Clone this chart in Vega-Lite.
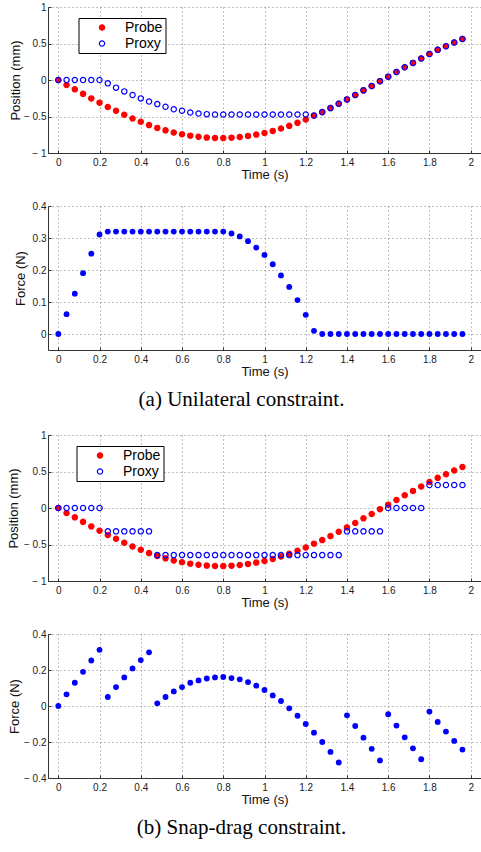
{
  "$schema": "https://vega.github.io/schema/vega-lite/v6.json",
  "padding": {"left": 7, "top": 2, "right": 0, "bottom": 4},
  "background": "white",
  "config": {
    "view": {"stroke": null},
    "font": "Liberation Sans",
    "axis": {
      "labelFont": "Liberation Sans", "labelFontSize": 10, "labelColor": "#222",
      "titleFont": "Liberation Sans", "titleFontSize": 13, "titleFontWeight": "normal", "titleColor": "#111",
      "domainColor": "#333", "domainWidth": 1,
      "tickColor": "#333", "tickSize": -3, "tickWidth": 1,
      "gridColor": "#555", "gridDash": [1, 3], "gridWidth": 1, "gridOpacity": 0.75,
      "labelFlush": false, "labelOverlap": false
    },
    "axisX": {"labelPadding": 7, "titlePadding": 1},
    "axisY": {"labelPadding": 5, "titleBaseline": "middle"}
  },
  "datasets": {
    "pos1": [
      {"time":0,"value":0,"series":"Probe"},{"time":0.04,"value":-0.069,"series":"Probe"},{"time":0.08,"value":-0.128,"series":"Probe"},{"time":0.12,"value":-0.19,"series":"Probe"},{"time":0.16,"value":-0.252,"series":"Probe"},{"time":0.2,"value":-0.31,"series":"Probe"},{"time":0.24,"value":-0.37,"series":"Probe"},{"time":0.28,"value":-0.422,"series":"Probe"},{"time":0.32,"value":-0.477,"series":"Probe"},{"time":0.36,"value":-0.527,"series":"Probe"},{"time":0.4,"value":-0.573,"series":"Probe"},{"time":0.44,"value":-0.618,"series":"Probe"},{"time":0.48,"value":-0.656,"series":"Probe"},{"time":0.52,"value":-0.69,"series":"Probe"},{"time":0.56,"value":-0.72,"series":"Probe"},{"time":0.6,"value":-0.743,"series":"Probe"},{"time":0.64,"value":-0.762,"series":"Probe"},{"time":0.68,"value":-0.778,"series":"Probe"},{"time":0.72,"value":-0.789,"series":"Probe"},{"time":0.76,"value":-0.795,"series":"Probe"},{"time":0.8,"value":-0.796,"series":"Probe"},{"time":0.84,"value":-0.79,"series":"Probe"},{"time":0.88,"value":-0.78,"series":"Probe"},{"time":0.92,"value":-0.766,"series":"Probe"},{"time":0.96,"value":-0.748,"series":"Probe"},{"time":1.0,"value":-0.725,"series":"Probe"},{"time":1.04,"value":-0.697,"series":"Probe"},{"time":1.08,"value":-0.665,"series":"Probe"},{"time":1.12,"value":-0.628,"series":"Probe"},{"time":1.16,"value":-0.587,"series":"Probe"},{"time":1.2,"value":-0.541,"series":"Probe"},{"time":1.24,"value":-0.488,"series":"Probe"},{"time":1.28,"value":-0.44,"series":"Probe"},{"time":1.32,"value":-0.385,"series":"Probe"},{"time":1.36,"value":-0.326,"series":"Probe"},{"time":1.4,"value":-0.266,"series":"Probe"},{"time":1.44,"value":-0.206,"series":"Probe"},{"time":1.48,"value":-0.142,"series":"Probe"},{"time":1.52,"value":-0.083,"series":"Probe"},{"time":1.56,"value":-0.016,"series":"Probe"},{"time":1.6,"value":0.046,"series":"Probe"},{"time":1.64,"value":0.11,"series":"Probe"},{"time":1.68,"value":0.174,"series":"Probe"},{"time":1.72,"value":0.234,"series":"Probe"},{"time":1.76,"value":0.294,"series":"Probe"},{"time":1.8,"value":0.356,"series":"Probe"},{"time":1.84,"value":0.413,"series":"Probe"},{"time":1.88,"value":0.463,"series":"Probe"},{"time":1.92,"value":0.514,"series":"Probe"},{"time":1.96,"value":0.562,"series":"Probe"},
      {"time":0,"value":0,"series":"Proxy"},{"time":0.04,"value":0,"series":"Proxy"},{"time":0.08,"value":0,"series":"Proxy"},{"time":0.12,"value":0,"series":"Proxy"},{"time":0.16,"value":0,"series":"Proxy"},{"time":0.2,"value":0,"series":"Proxy"},{"time":0.24,"value":-0.046,"series":"Proxy"},{"time":0.28,"value":-0.105,"series":"Proxy"},{"time":0.32,"value":-0.156,"series":"Proxy"},{"time":0.36,"value":-0.206,"series":"Proxy"},{"time":0.4,"value":-0.252,"series":"Proxy"},{"time":0.44,"value":-0.294,"series":"Proxy"},{"time":0.48,"value":-0.33,"series":"Proxy"},{"time":0.52,"value":-0.367,"series":"Proxy"},{"time":0.56,"value":-0.4,"series":"Proxy"},{"time":0.6,"value":-0.422,"series":"Proxy"},{"time":0.64,"value":-0.445,"series":"Proxy"},{"time":0.68,"value":-0.459,"series":"Proxy"},{"time":0.72,"value":-0.468,"series":"Proxy"},{"time":0.76,"value":-0.473,"series":"Proxy"},{"time":0.8,"value":-0.473,"series":"Proxy"},{"time":0.84,"value":-0.473,"series":"Proxy"},{"time":0.88,"value":-0.473,"series":"Proxy"},{"time":0.92,"value":-0.473,"series":"Proxy"},{"time":0.96,"value":-0.473,"series":"Proxy"},{"time":1.0,"value":-0.473,"series":"Proxy"},{"time":1.04,"value":-0.473,"series":"Proxy"},{"time":1.08,"value":-0.473,"series":"Proxy"},{"time":1.12,"value":-0.473,"series":"Proxy"},{"time":1.16,"value":-0.473,"series":"Proxy"},{"time":1.2,"value":-0.473,"series":"Proxy"},{"time":1.24,"value":-0.486,"series":"Proxy"},{"time":1.28,"value":-0.44,"series":"Proxy"},{"time":1.32,"value":-0.385,"series":"Proxy"},{"time":1.36,"value":-0.326,"series":"Proxy"},{"time":1.4,"value":-0.266,"series":"Proxy"},{"time":1.44,"value":-0.206,"series":"Proxy"},{"time":1.48,"value":-0.142,"series":"Proxy"},{"time":1.52,"value":-0.083,"series":"Proxy"},{"time":1.56,"value":-0.016,"series":"Proxy"},{"time":1.6,"value":0.046,"series":"Proxy"},{"time":1.64,"value":0.11,"series":"Proxy"},{"time":1.68,"value":0.174,"series":"Proxy"},{"time":1.72,"value":0.234,"series":"Proxy"},{"time":1.76,"value":0.294,"series":"Proxy"},{"time":1.8,"value":0.356,"series":"Proxy"},{"time":1.84,"value":0.413,"series":"Proxy"},{"time":1.88,"value":0.463,"series":"Proxy"},{"time":1.92,"value":0.514,"series":"Proxy"},{"time":1.96,"value":0.562,"series":"Proxy"}
    ],
    "force1": [
      {"time":0,"force":0},{"time":0.04,"force":0.062},{"time":0.08,"force":0.126},{"time":0.12,"force":0.19},{"time":0.16,"force":0.251},{"time":0.2,"force":0.311},{"time":0.24,"force":0.32},{"time":0.28,"force":0.32},{"time":0.32,"force":0.32},{"time":0.36,"force":0.32},{"time":0.4,"force":0.32},{"time":0.44,"force":0.32},{"time":0.48,"force":0.32},{"time":0.52,"force":0.32},{"time":0.56,"force":0.32},{"time":0.6,"force":0.32},{"time":0.64,"force":0.32},{"time":0.68,"force":0.32},{"time":0.72,"force":0.32},{"time":0.76,"force":0.32},{"time":0.8,"force":0.32},{"time":0.84,"force":0.314},{"time":0.88,"force":0.305},{"time":0.92,"force":0.29},{"time":0.96,"force":0.27},{"time":1.0,"force":0.247},{"time":1.04,"force":0.218},{"time":1.08,"force":0.183},{"time":1.12,"force":0.147},{"time":1.16,"force":0.106},{"time":1.2,"force":0.06},{"time":1.24,"force":0.01},{"time":1.28,"force":0},{"time":1.32,"force":0},{"time":1.36,"force":0},{"time":1.4,"force":0},{"time":1.44,"force":0},{"time":1.48,"force":0},{"time":1.52,"force":0},{"time":1.56,"force":0},{"time":1.6,"force":0},{"time":1.64,"force":0},{"time":1.68,"force":0},{"time":1.72,"force":0},{"time":1.76,"force":0},{"time":1.8,"force":0},{"time":1.84,"force":0},{"time":1.88,"force":0},{"time":1.92,"force":0},{"time":1.96,"force":0}
    ],
    "pos2": [
      {"time":0,"value":0,"series":"Probe"},{"time":0.04,"value":-0.069,"series":"Probe"},{"time":0.08,"value":-0.128,"series":"Probe"},{"time":0.12,"value":-0.19,"series":"Probe"},{"time":0.16,"value":-0.252,"series":"Probe"},{"time":0.2,"value":-0.31,"series":"Probe"},{"time":0.24,"value":-0.37,"series":"Probe"},{"time":0.28,"value":-0.422,"series":"Probe"},{"time":0.32,"value":-0.477,"series":"Probe"},{"time":0.36,"value":-0.527,"series":"Probe"},{"time":0.4,"value":-0.573,"series":"Probe"},{"time":0.44,"value":-0.618,"series":"Probe"},{"time":0.48,"value":-0.656,"series":"Probe"},{"time":0.52,"value":-0.69,"series":"Probe"},{"time":0.56,"value":-0.72,"series":"Probe"},{"time":0.6,"value":-0.743,"series":"Probe"},{"time":0.64,"value":-0.762,"series":"Probe"},{"time":0.68,"value":-0.778,"series":"Probe"},{"time":0.72,"value":-0.789,"series":"Probe"},{"time":0.76,"value":-0.795,"series":"Probe"},{"time":0.8,"value":-0.796,"series":"Probe"},{"time":0.84,"value":-0.79,"series":"Probe"},{"time":0.88,"value":-0.78,"series":"Probe"},{"time":0.92,"value":-0.766,"series":"Probe"},{"time":0.96,"value":-0.748,"series":"Probe"},{"time":1.0,"value":-0.725,"series":"Probe"},{"time":1.04,"value":-0.697,"series":"Probe"},{"time":1.08,"value":-0.665,"series":"Probe"},{"time":1.12,"value":-0.628,"series":"Probe"},{"time":1.16,"value":-0.587,"series":"Probe"},{"time":1.2,"value":-0.541,"series":"Probe"},{"time":1.24,"value":-0.488,"series":"Probe"},{"time":1.28,"value":-0.44,"series":"Probe"},{"time":1.32,"value":-0.385,"series":"Probe"},{"time":1.36,"value":-0.326,"series":"Probe"},{"time":1.4,"value":-0.266,"series":"Probe"},{"time":1.44,"value":-0.206,"series":"Probe"},{"time":1.48,"value":-0.142,"series":"Probe"},{"time":1.52,"value":-0.083,"series":"Probe"},{"time":1.56,"value":-0.016,"series":"Probe"},{"time":1.6,"value":0.046,"series":"Probe"},{"time":1.64,"value":0.11,"series":"Probe"},{"time":1.68,"value":0.174,"series":"Probe"},{"time":1.72,"value":0.234,"series":"Probe"},{"time":1.76,"value":0.294,"series":"Probe"},{"time":1.8,"value":0.356,"series":"Probe"},{"time":1.84,"value":0.413,"series":"Probe"},{"time":1.88,"value":0.463,"series":"Probe"},{"time":1.92,"value":0.514,"series":"Probe"},{"time":1.96,"value":0.562,"series":"Probe"},
      {"time":0,"value":0,"series":"Proxy"},{"time":0.04,"value":0,"series":"Proxy"},{"time":0.08,"value":0,"series":"Proxy"},{"time":0.12,"value":0,"series":"Proxy"},{"time":0.16,"value":0,"series":"Proxy"},{"time":0.2,"value":0,"series":"Proxy"},{"time":0.24,"value":-0.32,"series":"Proxy"},{"time":0.28,"value":-0.32,"series":"Proxy"},{"time":0.32,"value":-0.32,"series":"Proxy"},{"time":0.36,"value":-0.32,"series":"Proxy"},{"time":0.4,"value":-0.32,"series":"Proxy"},{"time":0.44,"value":-0.32,"series":"Proxy"},{"time":0.48,"value":-0.645,"series":"Proxy"},{"time":0.52,"value":-0.645,"series":"Proxy"},{"time":0.56,"value":-0.645,"series":"Proxy"},{"time":0.6,"value":-0.645,"series":"Proxy"},{"time":0.64,"value":-0.645,"series":"Proxy"},{"time":0.68,"value":-0.645,"series":"Proxy"},{"time":0.72,"value":-0.645,"series":"Proxy"},{"time":0.76,"value":-0.645,"series":"Proxy"},{"time":0.8,"value":-0.645,"series":"Proxy"},{"time":0.84,"value":-0.645,"series":"Proxy"},{"time":0.88,"value":-0.645,"series":"Proxy"},{"time":0.92,"value":-0.645,"series":"Proxy"},{"time":0.96,"value":-0.645,"series":"Proxy"},{"time":1.0,"value":-0.645,"series":"Proxy"},{"time":1.04,"value":-0.645,"series":"Proxy"},{"time":1.08,"value":-0.645,"series":"Proxy"},{"time":1.12,"value":-0.645,"series":"Proxy"},{"time":1.16,"value":-0.645,"series":"Proxy"},{"time":1.2,"value":-0.645,"series":"Proxy"},{"time":1.24,"value":-0.645,"series":"Proxy"},{"time":1.28,"value":-0.645,"series":"Proxy"},{"time":1.32,"value":-0.645,"series":"Proxy"},{"time":1.36,"value":-0.645,"series":"Proxy"},{"time":1.4,"value":-0.32,"series":"Proxy"},{"time":1.44,"value":-0.32,"series":"Proxy"},{"time":1.48,"value":-0.32,"series":"Proxy"},{"time":1.52,"value":-0.32,"series":"Proxy"},{"time":1.56,"value":-0.32,"series":"Proxy"},{"time":1.6,"value":0,"series":"Proxy"},{"time":1.64,"value":0,"series":"Proxy"},{"time":1.68,"value":0,"series":"Proxy"},{"time":1.72,"value":0,"series":"Proxy"},{"time":1.76,"value":0,"series":"Proxy"},{"time":1.8,"value":0.316,"series":"Proxy"},{"time":1.84,"value":0.316,"series":"Proxy"},{"time":1.88,"value":0.316,"series":"Proxy"},{"time":1.92,"value":0.316,"series":"Proxy"},{"time":1.96,"value":0.316,"series":"Proxy"}
    ],
    "force2": [
      {"time":0,"force":0},{"time":0.04,"force":0.065},{"time":0.08,"force":0.129},{"time":0.12,"force":0.19},{"time":0.16,"force":0.253},{"time":0.2,"force":0.312},{"time":0.24,"force":0.05},{"time":0.28,"force":0.105},{"time":0.32,"force":0.159},{"time":0.36,"force":0.209},{"time":0.4,"force":0.255},{"time":0.44,"force":0.298},{"time":0.48,"force":0.015},{"time":0.52,"force":0.05},{"time":0.56,"force":0.081},{"time":0.6,"force":0.105},{"time":0.64,"force":0.129},{"time":0.68,"force":0.142},{"time":0.72,"force":0.153},{"time":0.76,"force":0.159},{"time":0.8,"force":0.161},{"time":0.84,"force":0.155},{"time":0.88,"force":0.148},{"time":0.92,"force":0.133},{"time":0.96,"force":0.113},{"time":1.0,"force":0.089},{"time":1.04,"force":0.059},{"time":1.08,"force":0.028},{"time":1.12,"force":-0.013},{"time":1.16,"force":-0.054},{"time":1.2,"force":-0.1},{"time":1.24,"force":-0.148},{"time":1.28,"force":-0.2},{"time":1.32,"force":-0.255},{"time":1.36,"force":-0.314},{"time":1.4,"force":-0.052},{"time":1.44,"force":-0.111},{"time":1.48,"force":-0.176},{"time":1.52,"force":-0.238},{"time":1.56,"force":-0.303},{"time":1.6,"force":-0.046},{"time":1.64,"force":-0.109},{"time":1.68,"force":-0.174},{"time":1.72,"force":-0.235},{"time":1.76,"force":-0.296},{"time":1.8,"force":-0.031},{"time":1.84,"force":-0.089},{"time":1.88,"force":-0.142},{"time":1.92,"force":-0.194},{"time":1.96,"force":-0.242}
    ]
  },
  "spacing": 20,
  "resolve": {"scale": {"x": "independent", "y": "independent", "color": "independent", "fill": "independent"}, "legend": {"color": "independent"}},
  "vconcat": [
    {
      "width": 433, "height": 146,
      "data": {"name": "pos1"},
      "mark": {"type": "point", "filled": false, "size": 28, "strokeWidth": 1.2, "opacity": 1},
      "encoding": {
        "x": {"field": "time", "type": "quantitative", "scale": {"domain": [-0.05, 2.05], "nice": false, "zero": false},
              "axis": {"title": "Time (s)", "values": [0, 0.2, 0.4, 0.6, 0.8, 1, 1.2, 1.4, 1.6, 1.8, 2], "format": "~g"}},
        "y": {"field": "value", "type": "quantitative", "scale": {"domain": [-1, 1], "nice": false, "zero": false},
              "axis": {"title": "Position (mm)", "values": [-1, -0.5, 0, 0.5, 1], "titleX": -33,
                       "labelExpr": "datum.value < 0 ? '−\u00a0' + format(-datum.value, '~g') : format(datum.value, '~g')"}},
        "color": {"field": "series", "type": "nominal", "scale": {"domain": ["Probe", "Proxy"], "range": ["#ff0000", "#0000ff"]},
                  "legend": {"title": null, "orient": "none", "legendX": 30.5, "legendY": 11, "direction": "vertical",
                             "strokeColor": "black", "fillColor": "white", "padding": 2.5,
                             "labelFont": "Liberation Sans", "labelFontSize": 14, "labelColor": "black",
                             "symbolType": "circle", "symbolSize": 28, "symbolStrokeWidth": 1.2,
                             "symbolOffset": 14, "labelOffset": 16, "rowPadding": 2,
                             "labelExpr": "datum.label + '\u00a0'",
                             "encode": {"symbols": {"update": {"fill": {"signal": "datum.value === 'Probe' ? '#ff0000' : 'transparent'"}}}}}},
        "fill": {"field": "series", "type": "nominal", "scale": {"domain": ["Probe", "Proxy"], "range": ["#ff0000", "transparent"]}, "legend": null}
      }
    },
    {
      "width": 433, "height": 144,
      "data": {"name": "force1"},
      "mark": {"type": "circle", "size": 34, "color": "#0000ff", "opacity": 1},
      "encoding": {
        "x": {"field": "time", "type": "quantitative", "scale": {"domain": [-0.05, 2.05], "nice": false, "zero": false},
              "axis": {"title": "Time (s)", "values": [0, 0.2, 0.4, 0.6, 0.8, 1, 1.2, 1.4, 1.6, 1.8, 2], "format": "~g"}},
        "y": {"field": "force", "type": "quantitative", "scale": {"domain": [-0.05, 0.4], "nice": false, "zero": false},
              "axis": {"title": "Force (N)", "values": [0, 0.1, 0.2, 0.3, 0.4], "format": "~g", "titleX": -28}}
      },
      "title": {"text": "(a) Unilateral constraint.", "orient": "bottom", "frame": "group", "anchor": "middle", "dx": -23, "offset": 11,
                "font": "Liberation Serif", "fontSize": 21, "fontWeight": "normal", "color": "black"}
    },
    {
      "width": 433, "height": 146,
      "data": {"name": "pos2"},
      "mark": {"type": "point", "filled": false, "size": 28, "strokeWidth": 1.2, "opacity": 1},
      "encoding": {
        "x": {"field": "time", "type": "quantitative", "scale": {"domain": [-0.05, 2.05], "nice": false, "zero": false},
              "axis": {"title": "Time (s)", "values": [0, 0.2, 0.4, 0.6, 0.8, 1, 1.2, 1.4, 1.6, 1.8, 2], "format": "~g"}},
        "y": {"field": "value", "type": "quantitative", "scale": {"domain": [-1, 1], "nice": false, "zero": false},
              "axis": {"title": "Position (mm)", "values": [-1, -0.5, 0, 0.5, 1], "titleX": -35,
                       "labelExpr": "datum.value < 0 ? '−\u00a0' + format(-datum.value, '~g') : format(datum.value, '~g')"}},
        "color": {"field": "series", "type": "nominal", "scale": {"domain": ["Probe", "Proxy"], "range": ["#ff0000", "#0000ff"]},
                  "legend": {"title": null, "orient": "none", "legendX": 28.5, "legendY": 11, "direction": "vertical",
                             "strokeColor": "black", "fillColor": "white", "padding": 2.5,
                             "labelFont": "Liberation Sans", "labelFontSize": 14, "labelColor": "black",
                             "symbolType": "circle", "symbolSize": 28, "symbolStrokeWidth": 1.2,
                             "symbolOffset": 14, "labelOffset": 16, "rowPadding": 2,
                             "labelExpr": "datum.label + '\u00a0'",
                             "encode": {"symbols": {"update": {"fill": {"signal": "datum.value === 'Probe' ? '#ff0000' : 'transparent'"}}}}}},
        "fill": {"field": "series", "type": "nominal", "scale": {"domain": ["Probe", "Proxy"], "range": ["#ff0000", "transparent"]}, "legend": null}
      }
    },
    {
      "width": 433, "height": 144,
      "data": {"name": "force2"},
      "mark": {"type": "circle", "size": 34, "color": "#0000ff", "opacity": 1},
      "encoding": {
        "x": {"field": "time", "type": "quantitative", "scale": {"domain": [-0.05, 2.05], "nice": false, "zero": false},
              "axis": {"title": "Time (s)", "values": [0, 0.2, 0.4, 0.6, 0.8, 1, 1.2, 1.4, 1.6, 1.8, 2], "format": "~g"}},
        "y": {"field": "force", "type": "quantitative", "scale": {"domain": [-0.4, 0.4], "nice": false, "zero": false},
              "axis": {"title": "Force (N)", "values": [-0.4, -0.2, 0, 0.2, 0.4], "titleX": -34,
                       "labelExpr": "datum.value < 0 ? '−\u00a0' + format(-datum.value, '~g') : format(datum.value, '~g')"}}
      },
      "title": {"text": "(b) Snap-drag constraint.", "orient": "bottom", "frame": "group", "anchor": "middle", "dx": -23, "offset": 11,
                "font": "Liberation Serif", "fontSize": 21, "fontWeight": "normal", "color": "black"}
    }
  ]
}
